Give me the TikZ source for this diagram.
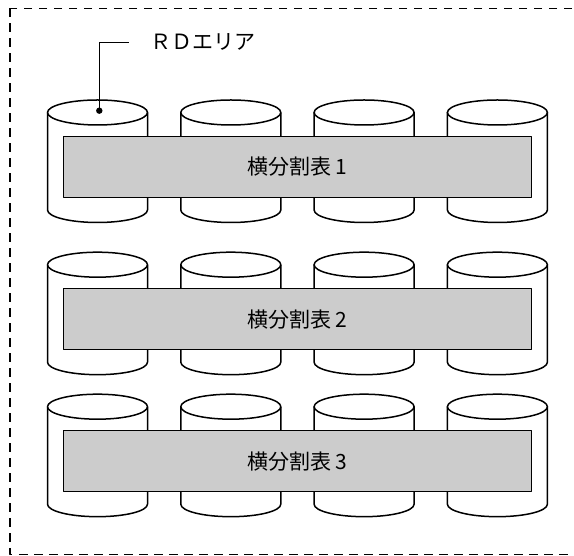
\documentclass[tikz,border=0pt]{standalone}
\usepackage{fontspec}
\newfontfamily\jpfont{Noto Sans CJK JP}

\begin{document}
\begin{tikzpicture}[x=1pt,y=1pt,line join=round]
\definecolor{tblgray}{HTML}{CCCCCC}
\tikzset{
  disk/.style={draw=black,line width=1.5pt,fill=white},
  tblbox/.style={draw=black,line width=1.1pt,fill=tblgray,minimum width=467.7pt,minimum height=61pt,inner sep=0pt,font=\jpfont\fontsize{21}{21}\selectfont},
  areaframe/.style={line width=1.5pt,dash pattern=on 8.5pt off 6.5pt}
}
\useasboundingbox (0,0) rectangle (574,556);
\clip (0,0) rectangle (574,556);
\draw[areaframe] (10,547.5) rectangle (600,1.5);
\foreach \ty in {443.5,291.3,149.3}{
  \foreach \cx in {97.5,230.8,364.1,497.4}{
    \draw[disk] (\cx-50,\ty) -- (\cx-50,\ty-97.5) arc (180:360:50 and 12.5) -- (\cx+50,\ty);
    \draw[disk] (\cx,\ty) ellipse (50 and 12.5);
  }
}
\node[tblbox] (tbl1) at (297.2,389) {横分割表 1};
\node[tblbox] (tbl2) at (297.2,236.8) {横分割表 2};
\node[tblbox] (tbl3) at (297.2,94.8) {横分割表 3};
\coordinate (rddot) at (99.3,445.3);
\fill (rddot) circle (3.2pt);
\node[anchor=west,inner sep=0pt,font=\jpfont\fontsize{21}{21}\selectfont] (rdlabel) at (150,513.7) {ＲＤエリア};
\draw[line width=1.5pt] (rddot) |- ([xshift=-21pt]rdlabel.west);
\end{tikzpicture}
\end{document}
